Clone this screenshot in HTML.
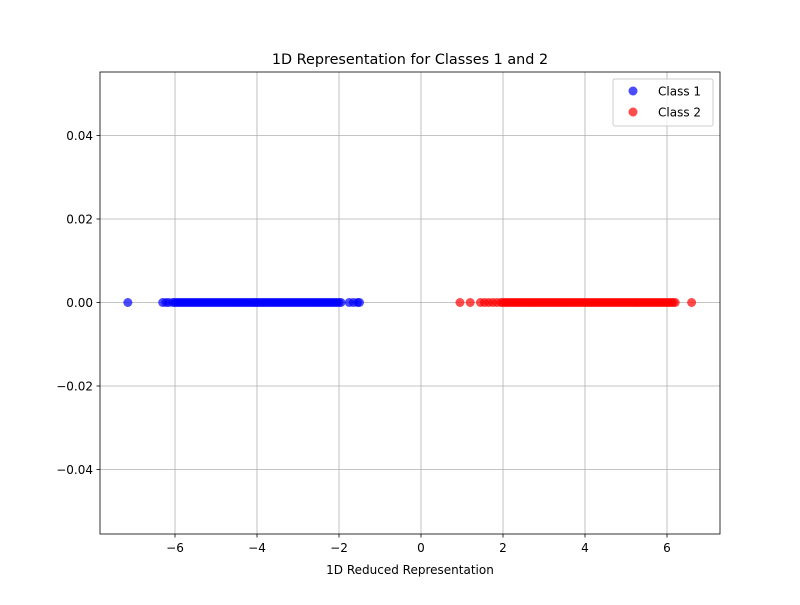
<!DOCTYPE html>
<html><head><meta charset="utf-8"><style>
body{margin:0;background:#fff;font-family:"Liberation Sans","DejaVu Sans",sans-serif}
svg text{font-family:"DejaVu Sans","Liberation Sans",sans-serif}
</style></head><body>
<svg id="c" width="800" height="600" xmlns="http://www.w3.org/2000/svg">
<rect width="800" height="600" fill="#fff"/>
<g id="grid"></g><g id="pts"></g><g id="axes"></g>
</svg>
<script>
const class1 = [-7.15,-6.3,-6.22,-6.15,-6.05,-6.0,-5.95,-5.9,-5.85,-5.8,-5.75,-5.7,-5.65,-5.6,-5.55,-5.5,-5.45,-5.4,-5.35,-5.3,-5.25,-5.2,-5.15,-5.1,-5.05,-5.0,-4.95,-4.9,-4.85,-4.8,-4.75,-4.7,-4.65,-4.6,-4.55,-4.5,-4.45,-4.4,-4.35,-4.3,-4.25,-4.2,-4.15,-4.1,-4.05,-4.0,-3.95,-3.9,-3.85,-3.8,-3.75,-3.7,-3.65,-3.6,-3.55,-3.5,-3.45,-3.4,-3.35,-3.3,-3.25,-3.2,-3.15,-3.1,-3.05,-3.0,-2.95,-2.9,-2.85,-2.8,-2.75,-2.7,-2.65,-2.6,-2.55,-2.5,-2.45,-2.4,-2.35,-2.3,-2.25,-2.2,-2.15,-2.1,-2.05,-2.0,-1.95,-1.75,-1.65,-1.55,-1.5];
const class2 = [0.95,1.2,1.45,1.55,1.65,1.75,1.85,1.95,2.0,2.05,2.1,2.15,2.2,2.25,2.3,2.35,2.4,2.45,2.5,2.55,2.6,2.65,2.7,2.75,2.8,2.85,2.9,2.95,3.0,3.05,3.1,3.15,3.2,3.25,3.3,3.35,3.4,3.45,3.5,3.55,3.6,3.65,3.7,3.75,3.8,3.85,3.9,3.95,4.0,4.05,4.1,4.15,4.2,4.25,4.3,4.35,4.4,4.45,4.5,4.55,4.6,4.65,4.7,4.75,4.8,4.85,4.9,4.95,5.0,5.05,5.1,5.15,5.2,5.25,5.3,5.35,5.4,5.45,5.5,5.55,5.6,5.65,5.7,5.75,5.8,5.85,5.9,5.95,6.0,6.05,6.1,6.15,6.2,6.6];
const xTicks = [-6,-4,-2,0,2,4,6];
const yTicks = [-0.04,-0.02,0.00,0.02,0.04];
const NS="http://www.w3.org/2000/svg";
const L=100,R=720,T=72,B=534;
const xs=v=>421+v*41;
const ys=v=>302.5-v*4175;
function mk(tag,attrs,parent,txt){const e=document.createElementNS(NS,tag);for(const k in attrs)e.setAttribute(k,attrs[k]);if(txt!==undefined)e.textContent=txt;parent.appendChild(e);return e;}
const grid=document.getElementById('grid'),pts=document.getElementById('pts'),axes=document.getElementById('axes');
xTicks.forEach(t=>{
 const g=mk('line',{x1:xs(t),x2:xs(t),y1:T,y2:B,stroke:'#b0b0b0','stroke-width':0.8},grid);
 
 
 mk('line',{x1:xs(t),x2:xs(t),y1:B,y2:B+3.5,stroke:'#000','stroke-width':0.8},axes);
 const lb=mk('text',{x:xs(t),y:B+18,'font-size':12,'text-anchor':'middle'},axes,(t<0?'\u2212'+(-t):t));
 
 
});
yTicks.forEach(t=>{
 const g=mk('line',{x1:L,x2:R,y1:ys(t),y2:ys(t),stroke:'#b0b0b0','stroke-width':0.8},grid);
 
 
 mk('line',{x1:L-3.5,x2:L,y1:ys(t),y2:ys(t),stroke:'#000','stroke-width':0.8},axes);
 const s=(t<0?'\u2212':'')+Math.abs(t).toFixed(2);
 const lb=mk('text',{x:L-7,y:ys(t)+4.5,'font-size':12,'text-anchor':'end'},axes,s);
 
 
});
class1.forEach(v=>{const c=mk('circle',{cx:xs(v),cy:ys(0),r:4.5,fill:'#0000ff','fill-opacity':0.7},pts);
 
 });
class2.forEach(v=>{const c=mk('circle',{cx:xs(v),cy:ys(0),r:4.5,fill:'#ff0000','fill-opacity':0.7},pts);
 
 });
const fr=mk('rect',{x:L,y:T,width:R-L,height:B-T,fill:'none',stroke:'#000','stroke-width':0.8},axes);


const ti=mk('text',{x:410,y:64,'font-size':14.4,'text-anchor':'middle'},axes,'1D Representation for Classes 1 and 2');


const xl=mk('text',{x:410,y:574,'font-size':12,'text-anchor':'middle'},axes,'1D Reduced Representation');


const lg=mk('g',{},axes);


mk('rect',{x:613,y:79,width:100,height:47,rx:2,fill:'#fff','fill-opacity':0.8,stroke:'#ccc'},lg);
const e1=mk('g',{},lg);


mk('circle',{cx:633,cy:91,r:4.5,fill:'#0000ff','fill-opacity':0.7},e1);
mk('text',{x:658,y:95.5,'font-size':12},e1,'Class 1');
const e2=mk('g',{},lg);


mk('circle',{cx:633,cy:112,r:4.5,fill:'#ff0000','fill-opacity':0.7},e2);
mk('text',{x:658,y:116.5,'font-size':12},e2,'Class 2');
</script>
</body></html>
